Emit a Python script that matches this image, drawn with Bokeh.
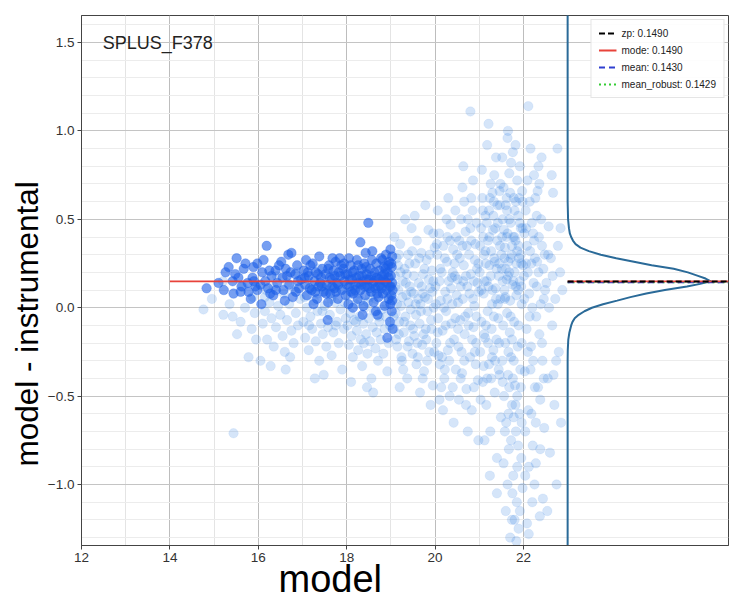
import math
from bokeh.plotting import figure
from bokeh.models import (ColumnDataSource, Range1d, FixedTicker, Legend, LegendItem, Title, Label,
                          CustomJSTickFormatter)
from bokeh.embed import file_html
from bokeh.resources import INLINE

# ---------------- data ----------------
field_name = "SPLUS_F378"
zp = 0.1490
mode_val = 0.1490
mean_val = 0.1430
mean_robust = 0.1429
fit_range = [14.0, 19.0]
kde_base = 23.0
x_ticks = [12, 14, 16, 18, 20, 22]

# stars used for the zero-point (bright)
bright_pts = [
    (14.83, 0.11), (15.10, 0.14), (15.22, 0.10), (15.26, 0.20), (15.33, 0.23), (15.42, 0.15), (15.44, 0.08),
    (15.48, 0.19), (15.51, 0.28),
    (15.62, 0.12), (15.67, 0.22), (15.71, 0.25), (15.76, 0.14), (15.78, 0.09), (15.87, 0.17), (15.89, 0.23),
    (15.94, 0.12), (15.98, 0.25), (15.98, 0.10), (15.55, 0.17), (15.83, 0.05),
    (16.07, 0.02), (16.09, 0.20), (16.16, 0.15), (16.19, 0.35), (16.27, 0.08), (16.34, 0.07), (16.39, 0.21),
    (16.43, 0.14), (16.12, 0.27), (16.22, 0.11), (16.30, 0.18), (16.47, 0.24), (16.05, 0.13),
    (16.55, 0.17), (16.57, 0.10), (16.68, 0.30), (16.75, 0.31), (16.62, 0.22), (16.70, 0.13), (16.78, 0.06),
    (16.84, 0.19), (16.88, 0.24), (16.92, 0.11), (16.97, 0.16), (16.60, 0.04), (16.73, 0.20), (16.85, 0.09),
    (16.52, 0.26),
    (17.03, 0.21), (17.06, 0.13), (17.10, 0.07), (17.14, 0.18), (17.18, 0.24), (17.23, 0.25), (17.21, 0.10),
    (17.27, 0.15), (17.30, 0.20), (17.33, 0.05), (17.38, 0.29), (17.36, 0.12), (17.42, 0.17), (17.45, 0.22),
    (17.48, 0.09), (17.08, 0.27), (17.25, 0.02), (17.40, 0.14),
    (17.52, 0.19), (17.55, 0.13), (17.57, -0.07), (17.60, 0.24), (17.63, 0.08), (17.66, 0.16), (17.70, 0.21),
    (17.72, 0.11), (17.75, 0.26), (17.78, 0.14), (17.80, 0.05), (17.84, 0.28), (17.86, 0.18), (17.89, 0.10),
    (17.92, 0.22), (17.95, 0.15), (17.98, 0.07), (17.58, 0.03), (17.68, 0.28), (17.82, 0.20), (17.94, 0.25),
    (17.62, 0.17), (17.76, 0.09),
    (18.02, 0.19), (18.04, 0.02), (18.06, 0.12), (18.09, 0.24), (18.12, 0.16), (18.15, 0.08), (18.17, 0.21),
    (18.20, 0.13), (18.23, 0.27), (18.25, 0.05), (18.28, 0.18), (18.31, 0.37), (18.31, 0.10), (18.34, 0.22),
    (18.36, -0.04), (18.37, 0.15), (18.40, 0.25), (18.42, 0.07), (18.43, 0.31), (18.45, 0.19), (18.47, 0.12),
    (18.49, 0.48), (18.05, 0.28), (18.14, 0.00), (18.26, 0.24), (18.38, 0.01), (18.44, 0.23), (18.10, 0.09),
    (18.22, 0.17), (18.33, 0.13),
    (18.51, 0.16), (18.53, 0.22), (18.55, 0.09), (18.57, 0.27), (18.59, 0.14), (18.61, 0.03), (18.63, 0.20),
    (18.65, 0.11), (18.67, 0.25), (18.68, 0.17), (18.70, -0.04), (18.72, 0.06), (18.74, 0.21), (18.76, 0.13),
    (18.78, 0.28), (18.80, 0.18), (18.82, 0.08), (18.84, 0.23), (18.86, 0.01), (18.87, 0.15), (18.89, 0.30),
    (18.90, 0.10), (18.92, -0.17), (18.93, 0.20), (18.95, 0.05), (18.96, 0.26), (18.97, 0.12), (18.98, -0.08),
    (18.99, 0.33), (19.00, 0.18), (19.01, 0.07), (19.02, 0.23), (19.02, -0.02), (19.03, 0.14), (19.03, 0.29),
    (19.04, 0.10), (19.04, -0.12), (18.58, 0.32), (18.66, -0.02), (18.81, 0.27), (18.94, 0.24), (18.99, 0.02),
    (18.71, 0.12), (18.85, 0.19),
    (17.05, 0.17), (17.16, 0.11), (17.29, 0.09), (17.44, 0.12), (17.53, 0.08), (17.67, 0.12), (17.73, 0.18),
    (17.81, 0.13), (17.88, 0.24), (17.97, 0.19), (18.07, 0.16), (18.13, 0.20), (18.19, 0.10), (18.27, 0.14),
    (18.35, 0.18), (18.41, 0.12), (18.46, 0.16), (18.52, 0.11), (18.56, 0.18), (18.62, 0.15), (18.69, 0.08),
    (18.73, 0.16), (18.79, 0.11), (18.83, 0.16), (18.88, 0.22), (18.91, 0.14), (18.95, 0.17), (19.00, 0.12),
    (19.01, 0.25), (19.03, 0.04), (16.90, 0.15), (16.65, 0.18), (16.40, 0.10), (16.25, 0.21), (15.90, 0.15),
    (15.60, 0.09), (17.12, 0.20), (17.35, 0.19), (17.58, 0.22), (18.00, 0.13),
]

# all stars (faint background)
faint_pts = [
    (14.76, -0.01), (14.95, 0.05), (15.21, -0.04), (15.42, -0.05), (15.44, -0.71), (15.78, -0.28), (15.35, 0.02),
    (15.60, -0.08), (15.70, 0.00), (15.85, -0.12), (15.52, -0.15), (15.92, -0.03), (15.65, 0.12), (15.20, 0.15),
    (15.88, 0.06),
    (16.05, -0.30), (16.10, -0.09), (16.15, -0.02), (16.20, -0.18), (16.25, 0.03), (16.30, -0.06), (16.35, -0.22),
    (16.40, -0.11), (16.45, 0.01), (16.50, -0.04), (16.55, -0.16), (16.60, -0.25), (16.65, -0.07), (16.70, 0.02),
    (16.75, -0.13), (16.80, -0.20), (16.85, -0.03), (16.90, -0.10), (16.95, 0.05), (16.18, 0.10), (16.42, 0.18),
    (16.66, 0.14), (16.88, 0.20), (16.28, -0.33), (16.72, -0.28),
    (17.02, -0.08), (17.06, -0.17), (17.10, 0.00), (17.14, -0.24), (17.18, -0.05), (17.22, -0.12), (17.26, 0.04),
    (17.30, -0.19), (17.34, -0.02), (17.38, -0.30), (17.42, -0.09), (17.46, -0.15), (17.50, 0.01), (17.54, -0.22),
    (17.58, -0.11), (17.62, -0.04), (17.66, -0.27), (17.70, -0.14), (17.74, 0.03), (17.78, -0.08), (17.82, -0.20),
    (17.86, -0.01), (17.90, -0.35), (17.94, -0.12), (17.98, -0.06), (17.12, 0.16), (17.36, 0.22), (17.60, 0.12),
    (17.84, 0.18), (17.48, -0.38), (17.72, 0.08), (17.20, 0.10),
    (18.02, -0.10), (18.05, -0.21), (18.08, -0.03), (18.11, -0.16), (18.14, -0.28), (18.17, -0.07), (18.20, 0.02),
    (18.23, -0.13), (18.26, -0.24), (18.29, -0.05), (18.32, -0.18), (18.35, -0.33), (18.38, -0.09), (18.41, 0.00),
    (18.44, -0.15), (18.47, -0.26), (18.50, -0.06), (18.53, -0.19), (18.56, -0.40), (18.59, -0.11), (18.62, -0.02),
    (18.65, -0.23), (18.68, -0.14), (18.71, -0.30), (18.74, -0.08), (18.77, -0.18), (18.80, -0.01), (18.83, -0.26),
    (18.86, -0.12), (18.89, -0.05), (18.92, -0.36), (18.95, -0.20), (18.98, -0.10), (18.15, 0.14), (18.40, 0.20),
    (18.64, 0.17), (18.88, 0.24), (18.27, 0.08), (18.52, 0.06), (18.76, 0.12), (18.10, -0.42), (18.60, -0.48),
    (17.05, 0.06), (17.15, -0.10), (17.25, 0.12), (17.35, 0.08), (17.45, -0.02), (17.55, 0.10), (17.65, 0.05),
    (17.75, -0.10), (17.85, 0.10), (17.95, 0.03), (18.03, 0.07), (18.13, 0.10), (18.21, -0.08), (18.31, 0.04),
    (18.39, -0.20), (18.48, 0.03), (18.57, 0.09), (18.66, 0.05), (18.73, -0.05), (18.81, 0.08), (18.90, 0.02),
    (18.97, 0.07), (16.35, 0.12), (16.58, 0.08), (16.82, 0.10), (16.15, 0.06), (15.95, -0.18), (16.62, -0.35),
    (17.28, -0.40), (18.46, -0.45),
    (19.05, 0.05), (19.07, -0.12), (19.09, 0.18), (19.11, -0.03), (19.13, 0.28), (19.15, -0.22), (19.17, 0.10),
    (19.19, -0.08), (19.21, 0.36), (19.23, 0.01), (19.25, -0.30), (19.27, 0.15), (19.29, -0.14), (19.31, 0.22),
    (19.33, -0.05), (19.35, 0.07), (19.37, -0.40), (19.39, 0.30), (19.41, -0.19), (19.43, 0.12), (19.45, -0.01),
    (19.47, 0.45), (19.49, -0.26), (19.08, 0.40), (19.20, -0.45), (19.32, 0.50), (19.44, -0.10), (19.16, 0.24),
    (19.28, -0.35), (19.40, 0.03), (19.12, -0.18), (19.36, 0.19),
    (19.06, -0.05), (19.10, 0.12), (19.14, 0.02), (19.18, -0.15), (19.22, 0.20), (19.26, 0.06), (19.30, -0.08),
    (19.34, 0.14), (19.38, -0.22), (19.42, 0.25), (19.46, 0.09), (19.50, -0.12), (19.52, 0.18), (19.56, 0.02),
    (19.60, -0.20), (19.64, 0.28), (19.68, -0.02), (19.72, 0.08), (19.76, 0.22), (19.80, -0.18), (19.84, 0.05),
    (19.88, 0.30), (19.92, -0.12), (19.96, 0.15), (19.98, -0.25), (19.24, -0.28), (19.48, 0.32), (19.72, -0.40),
    (19.96, 0.42), (19.18, 0.30),
    (19.51, 0.08), (19.53, -0.16), (19.55, 0.25), (19.57, -0.04), (19.59, 0.38), (19.61, -0.28), (19.63, 0.14),
    (19.65, -0.09), (19.67, 0.02), (19.69, 0.31), (19.71, -0.21), (19.73, 0.19), (19.75, -0.36), (19.77, 0.06),
    (19.79, -0.12), (19.81, 0.27), (19.83, -0.02), (19.85, 0.44), (19.87, -0.25), (19.89, 0.11), (19.91, -0.07),
    (19.93, 0.21), (19.95, -0.44), (19.97, 0.00), (19.99, 0.34), (19.54, 0.52), (19.66, -0.48), (19.78, 0.58),
    (19.90, -0.55), (19.62, 0.05), (19.74, -0.15), (19.86, 0.16), (19.58, -0.32), (19.70, 0.12), (19.82, -0.30),
    (19.94, 0.09),
    (20.01, 0.12), (20.03, -0.20), (20.05, 0.30), (20.07, -0.06), (20.09, 0.42), (20.11, -0.32), (20.13, 0.04),
    (20.15, 0.20), (20.17, -0.13), (20.19, 0.35), (20.21, -0.40), (20.23, 0.09), (20.25, -0.02), (20.27, 0.26),
    (20.29, -0.24), (20.31, 0.15), (20.33, -0.50), (20.35, 0.47), (20.37, -0.09), (20.39, 0.02), (20.41, 0.33),
    (20.43, -0.18), (20.45, 0.18), (20.47, -0.35), (20.49, 0.07), (20.06, 0.55), (20.18, -0.58), (20.30, 0.62),
    (20.42, -0.65), (20.12, 0.22), (20.24, -0.10), (20.36, 0.11), (20.48, 0.40), (20.08, -0.27), (20.20, 0.00),
    (20.32, -0.30), (20.44, 0.25), (20.14, -0.45), (20.26, 0.50), (20.38, 0.17),
    (20.02, 0.02), (20.04, 0.36), (20.06, -0.14), (20.10, 0.15), (20.16, -0.28), (20.22, 0.28), (20.28, 0.05),
    (20.34, -0.20), (20.40, 0.20), (20.46, -0.06), (20.50, 0.30), (20.52, -0.12), (20.58, 0.12), (20.62, 0.35),
    (20.66, -0.30), (20.70, 0.18), (20.74, 0.50), (20.76, -0.10), (20.82, 0.38), (20.86, 0.05), (20.90, -0.25),
    (20.94, 0.48), (20.98, 0.25), (20.58, -0.40), (20.70, -0.55), (20.82, 0.62), (20.94, -0.05), (20.46, 0.55),
    (20.22, -0.35), (20.34, 0.38), (20.10, -0.52), (20.28, 0.40), (20.64, 0.15), (20.88, 0.15), (20.40, -0.45),
    (20.51, 0.16), (20.53, -0.22), (20.55, 0.38), (20.57, -0.07), (20.59, 0.50), (20.61, -0.37), (20.63, 0.05),
    (20.65, 0.24), (20.67, -0.15), (20.69, 0.43), (20.71, -0.46), (20.73, 0.12), (20.75, -0.03), (20.77, 0.30),
    (20.79, -0.28), (20.81, 0.19), (20.83, -0.58), (20.85, 0.55), (20.87, -0.11), (20.89, 0.01), (20.91, 0.36),
    (20.93, -0.20), (20.95, 0.22), (20.97, -0.41), (20.99, 0.09), (20.80, 1.11), (20.62, 0.68), (20.74, -0.70),
    (20.86, 0.72), (20.98, -0.75), (20.56, 0.28), (20.68, -0.05), (20.80, 0.45), (20.92, -0.32), (20.54, -0.52),
    (20.66, 0.60), (20.78, 0.08), (20.90, 0.27), (20.60, -0.25), (20.72, 0.35), (20.84, -0.18), (20.96, 0.14),
    (20.52, 0.03), (20.88, -0.45), (20.64, 0.80),
    (21.01, 0.20), (21.02, -0.25), (21.04, 0.45), (21.05, -0.08), (21.07, 0.62), (21.08, -0.42), (21.10, 0.08),
    (21.11, 0.30), (21.13, -0.17), (21.14, 0.52), (21.16, -0.55), (21.17, 0.15), (21.19, -0.02), (21.20, 0.38),
    (21.21, 1.04), (21.22, -0.32), (21.23, 0.24), (21.25, -0.70), (21.26, 0.70), (21.28, -0.12), (21.29, 0.02),
    (21.31, 0.44), (21.32, -0.24), (21.34, 0.28), (21.35, -0.48), (21.37, 0.11), (21.38, 0.85), (21.40, -0.85),
    (21.41, 0.58), (21.43, -0.06), (21.44, 0.18), (21.46, -0.38), (21.47, 0.35), (21.49, -0.62), (21.06, 0.78),
    (21.12, -0.75), (21.18, 0.92), (21.24, -0.95), (21.30, 0.65), (21.36, -0.30), (21.42, 0.48), (21.48, 0.05),
    (21.03, -0.52), (21.09, 0.40), (21.15, -0.10), (21.21, 0.12), (21.27, -0.40), (21.33, 0.60), (21.39, -0.18),
    (21.45, 0.25), (21.15, 0.25), (21.27, 0.32), (21.39, 0.22), (21.33, -0.05), (21.45, -0.20), (21.10, -0.33),
    (21.22, 0.55), (21.34, 0.75), (21.46, 0.66), (21.40, -1.05),
    (21.02, 0.35), (21.05, 0.10), (21.08, 0.55), (21.11, -0.15), (21.14, 0.32), (21.17, 0.48), (21.20, -0.20),
    (21.23, 0.40), (21.26, 0.18), (21.29, -0.28), (21.32, 0.52), (21.35, 0.26), (21.38, 0.05), (21.41, 0.38),
    (21.44, -0.35), (21.47, 0.58), (21.50, 0.30), (21.53, 0.15), (21.56, 0.44), (21.59, 0.06), (21.62, 0.62),
    (21.65, 0.18), (21.68, 0.50), (21.71, 0.28), (21.74, -0.18), (21.77, 0.40), (21.80, 0.55), (21.83, 0.12),
    (21.86, 0.32), (21.89, -0.10), (21.92, 0.48), (21.95, 0.25), (21.98, 0.60), (21.60, 0.22), (21.70, 0.65),
    (21.80, 0.40), (21.90, 0.62), (21.66, -0.60), (21.76, -0.40), (21.86, -0.90), (21.96, -0.65), (21.72, -0.75),
    (21.82, -0.55), (21.92, -1.15), (21.64, -1.00), (21.58, -0.70), (21.74, -1.20), (21.84, -1.32), (21.94, -0.45),
    (21.48, 0.70), (21.36, 0.45), (21.24, 0.62), (21.12, 0.15), (21.30, 0.10), (21.42, 0.02), (21.18, -0.40),
    (21.52, 0.40),
    (21.51, 0.22), (21.52, -0.30), (21.53, 0.50), (21.54, -0.10), (21.55, 0.68), (21.56, -0.50), (21.57, 0.10),
    (21.58, 0.34), (21.59, -0.20), (21.60, 0.58), (21.61, -0.65), (21.62, 0.16), (21.63, -0.03), (21.64, 0.96),
    (21.64, 0.42), (21.65, -0.38), (21.66, 0.26), (21.67, -0.80), (21.68, 0.76), (21.69, -0.14), (21.70, 0.04),
    (21.71, 0.48), (21.72, -0.28), (21.73, 0.30), (21.74, -0.55), (21.75, 0.13), (21.76, 0.88), (21.77, -0.95),
    (21.78, 0.62), (21.79, -0.08), (21.80, 0.20), (21.81, -0.44), (21.82, 0.38), (21.83, -0.70), (21.84, 0.07),
    (21.85, -1.10), (21.86, 0.72), (21.87, -0.22), (21.88, 0.52), (21.89, -1.25), (21.90, 0.28), (21.91, -0.60),
    (21.92, 0.15), (21.93, -0.35), (21.94, 0.45), (21.95, -0.85), (21.96, 0.02), (21.97, 0.66), (21.98, -1.02),
    (21.99, 0.24), (21.55, -0.88), (21.60, -1.15), (21.70, -1.30), (21.75, -1.05), (21.80, -1.20), (21.65, 1.00),
    (21.72, 0.82), (21.82, 0.92), (21.92, 0.80), (21.58, 0.05), (21.62, 0.40), (21.68, 0.20), (21.74, 0.35),
    (21.78, -0.30), (21.84, 0.25), (21.88, 0.10), (21.94, 0.30), (21.98, 0.45), (21.53, -0.42), (21.66, -0.25),
    (21.86, -0.50), (21.96, -0.20), (21.57, 0.28), (21.63, 0.55), (21.71, -0.05), (21.77, 0.15), (21.83, 0.60),
    (21.89, 0.35), (21.95, 0.12), (21.52, 0.85), (21.88, -0.78), (21.78, -0.62), (21.68, -0.45),
    (22.01, 0.18), (22.03, -0.36), (22.05, 0.55), (22.07, -0.12), (22.09, 0.72), (22.11, 1.14), (22.11, -0.58),
    (22.13, 0.08), (22.15, 0.32), (22.17, -0.22), (22.19, 0.48), (22.21, -0.78), (22.23, 0.14), (22.25, -1.00),
    (22.27, 0.62), (22.29, -0.05), (22.31, 0.26), (22.33, -0.45), (22.35, 0.40), (22.37, -1.18), (22.39, 0.02),
    (22.41, 0.85), (22.43, -0.30), (22.45, 0.22), (22.47, -0.68), (22.49, 0.10), (22.04, -0.95), (22.08, 0.35),
    (22.12, -1.28), (22.16, 0.90), (22.20, 0.00), (22.24, 0.38), (22.28, -0.88), (22.32, 0.66), (22.36, -0.15),
    (22.40, 0.50), (22.44, -1.08), (22.48, 0.30), (22.06, 0.25), (22.14, -0.05), (22.22, -0.30), (22.30, 0.12),
    (22.38, -0.52), (22.46, 0.05), (22.02, 0.42), (22.10, 0.20), (22.18, -0.60), (22.26, 0.28), (22.34, 0.80),
    (22.42, -0.20),
    (22.02, 0.05), (22.06, 0.45), (22.10, -0.25), (22.14, 0.60), (22.18, 0.25), (22.22, 0.42), (22.26, -0.45),
    (22.30, 0.52), (22.34, 0.20), (22.38, -0.80), (22.42, 0.35), (22.46, -0.40), (22.12, -0.90), (22.20, -1.10),
    (22.28, -0.65), (22.36, 0.70), (22.04, -0.70), (22.08, -1.22), (22.16, -0.35), (22.24, 0.75),
    (22.52, 0.14), (22.55, -0.40), (22.57, 0.46), (22.60, -0.82), (22.62, 0.28), (22.65, -0.10), (22.67, 0.65),
    (22.70, -0.55), (22.72, 0.05), (22.75, -1.00), (22.77, 0.90), (22.78, 0.35), (22.80, -0.25), (22.83, 0.20),
    (22.85, -0.65), (22.88, 0.10), (22.54, -1.15), (22.64, 0.75), (22.74, -0.30), (22.84, 0.45), (22.58, 0.00),
    (22.68, -0.38), (22.56, 0.30), (22.66, 0.18),
]

# KDE of the bright residuals (density, in x-units added to kde_base)
kde_y = [1.66, 0.60, 0.50, 0.45, 0.42, 0.40, 0.38, 0.36, 0.34, 0.32, 0.30, 0.28, 0.26, 0.24, 0.22, 0.20,
         0.18, 0.165, 0.149, 0.135, 0.12, 0.10, 0.08, 0.06, 0.04, 0.02, 0.0, -0.02, -0.04, -0.06, -0.08,
         -0.10, -0.14, -0.18, -0.24, -0.30, -1.35]
kde_w = [0.0, 0.0, 0.01, 0.03, 0.05, 0.08, 0.12, 0.18, 0.29, 0.48, 0.75, 1.10, 1.50, 1.90, 2.40, 2.72,
         2.95, 3.12, 3.24, 3.00, 2.70, 2.20, 1.78, 1.42, 1.12, 0.80, 0.55, 0.38, 0.25, 0.16, 0.11,
         0.08, 0.04, 0.015, 0.003, 0.0, 0.0]

# ---------------- figure ----------------
W, H = 730, 598
x0, x1 = 12.0, 26.64
y0, y1 = -1.345, 1.653

p = figure(width=W, height=H, output_backend="svg", toolbar_location=None,
           x_range=Range1d(x0, x1), y_range=Range1d(y0, y1),
           min_border_left=81, min_border_right=2, min_border_top=15, min_border_bottom=53)
p.background_fill_color = "white"
p.border_fill_color = "white"
p.outline_line_color = "#444444"
p.outline_line_width = 1

tick_font = "Liberation Sans"
p.xaxis.ticker = FixedTicker(ticks=x_ticks, minor_ticks=[13, 15, 17, 19, 21])
p.yaxis.ticker = FixedTicker(ticks=[-1.0, -0.5, 0.0, 0.5, 1.0, 1.5],
                             minor_ticks=[-1.3, -1.2, -1.1, -0.9, -0.8, -0.7, -0.6, -0.4, -0.3, -0.2, -0.1,
                                          0.1, 0.2, 0.3, 0.4, 0.6, 0.7, 0.8, 0.9, 1.1, 1.2, 1.3, 1.4, 1.6])
p.yaxis.formatter = CustomJSTickFormatter(code="return tick.toFixed(1).replace('-', '\u2212');")
for ax in (p.xaxis, p.yaxis):
    ax.major_label_text_font = tick_font
    ax.major_label_text_font_size = "13.5px"
    ax.major_label_text_color = "#333333"
    ax.axis_line_color = "#444444"
    ax.major_tick_line_color = "#444444"
    ax.major_tick_in = 0
    ax.major_tick_out = 4
    ax.minor_tick_line_color = None
    ax.major_label_standoff = 3

p.xgrid.grid_line_color = "#bdbdbd"
p.ygrid.grid_line_color = "#c4c4c4"
p.xgrid.minor_grid_line_color = "#e4e4e4"
p.ygrid.minor_grid_line_color = "#ececec"

# scatter
fsrc = ColumnDataSource(dict(x=[a for a, b in faint_pts], y=[b for a, b in faint_pts]))
bsrc = ColumnDataSource(dict(x=[a for a, b in bright_pts], y=[b for a, b in bright_pts]))
p.scatter("x", "y", source=fsrc, size=9.5, marker="circle", fill_color="#2f7fe0", fill_alpha=0.2,
          line_color="#2f7fe0", line_alpha=0.08)
p.scatter("x", "y", source=bsrc, size=9.5, marker="circle", fill_color="#1d5fe8", fill_alpha=0.6,
          line_color="#1d5fe8", line_alpha=0.3)

# mode line over fit range
p.line(fit_range, [mode_val, mode_val], line_color="#e8433a", line_width=1.8)

# KDE side panel
p.line([kde_base + w for w in kde_w], kde_y, line_color="#2a6a98", line_width=2)
r_rob = p.line([kde_base, x1], [mean_robust, mean_robust], line_color="#33cc33", line_width=1.8, line_dash="2 3")
r_mean = p.line([kde_base, x1], [mean_val, mean_val], line_color="#2f3fd0", line_width=1.8, line_dash="6 4")
r_mode = p.line([kde_base, x1], [mode_val, mode_val], line_color="#e8433a", line_width=1.8)
r_zp = p.line([kde_base, x1], [zp, zp], line_color="black", line_width=2, line_dash="6 3")

legend = Legend(items=[
    LegendItem(label="zp: %.4f" % zp, renderers=[r_zp]),
    LegendItem(label="mode: %.4f" % mode_val, renderers=[r_mode]),
    LegendItem(label="mean: %.4f" % mean_val, renderers=[r_mean]),
    LegendItem(label="mean_robust: %.4f" % mean_robust, renderers=[r_rob]),
], location="top_right")
legend.label_text_font = tick_font
legend.label_text_font_size = "10px"
legend.label_text_color = "#222222"
legend.glyph_width = 18
legend.glyph_height = 12
legend.label_height = 12
legend.spacing = 5
legend.padding = 7
legend.margin = 4
legend.border_line_color = "#cccccc"
legend.background_fill_alpha = 0.9
p.add_layout(legend)

# field name
p.add_layout(Label(x=12.48, y=1.5, text=field_name, text_font=tick_font, text_font_size="18px",
                   text_color="#222222", text_baseline="middle", text_align="left"))

# axis labels as side titles (placed off-centre like the reference)
p.add_layout(Title(text="model", text_font="Liberation Sans", text_font_size="38px",
                   text_font_style="normal", text_color="black", align="left", offset=197,
                   vertical_align="top", standoff=-14), "below")
p.add_layout(Title(text="model - instrumental", text_font="Liberation Sans", text_font_size="31.5px",
                   text_font_style="normal", text_color="black", align="left", offset=79,
                   standoff=0), "left")

open("out.html", "w").write(file_html(p, INLINE))
